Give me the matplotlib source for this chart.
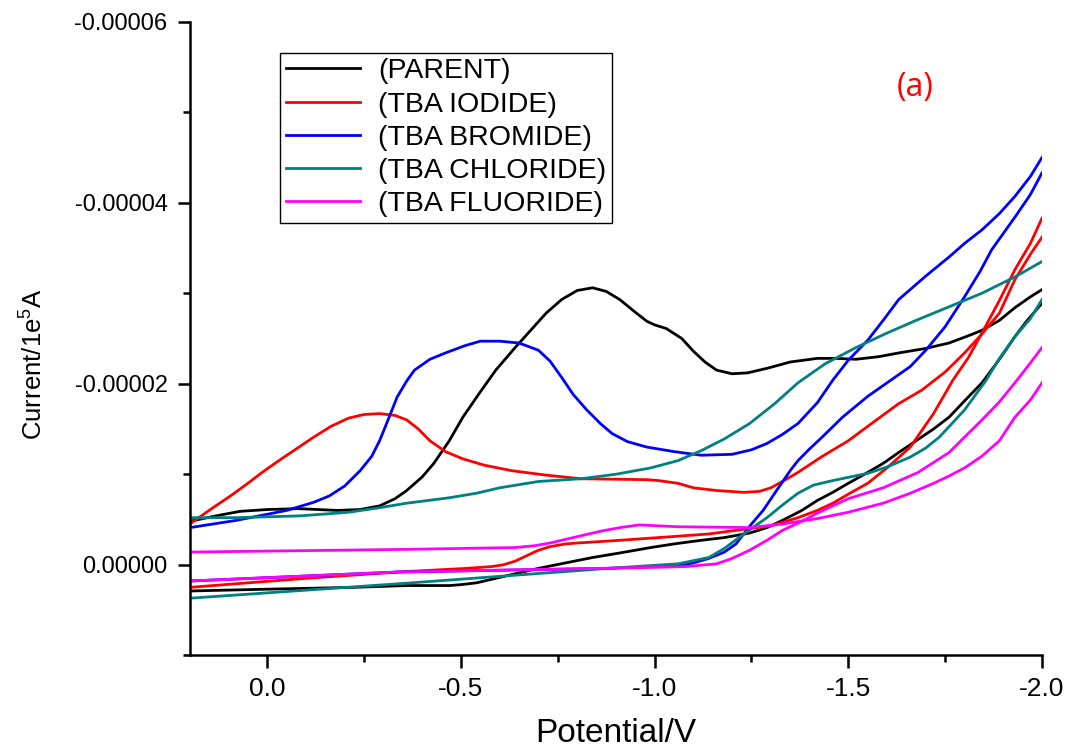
import numpy as np
import matplotlib
matplotlib.use('Agg')
import matplotlib.pyplot as plt
from matplotlib.ticker import MultipleLocator, FixedLocator, FixedFormatter

plt.rcParams['font.family'] = ['Liberation Sans', 'DejaVu Sans']
plt.rcParams['xtick.labelsize'] = 19
plt.rcParams['ytick.labelsize'] = 17

# potential (V) and current (uA), forward and return branch
parent_fwd_v = [0.20, 0.12, 0.07, 0.0, -0.08, -0.13, -0.18, -0.24, -0.29, -0.33, -0.36, -0.40, -0.43, -0.47, -0.505, -0.55, -0.59, -0.64, -0.68, -0.72, -0.76, -0.80, -0.84, -0.875, -0.91, -0.95, -0.98, -1.00, -1.03, -1.07, -1.10, -1.13, -1.16, -1.20, -1.24, -1.29, -1.35, -1.42, -1.47, -1.52, -1.58, -1.63, -1.70, -1.76, -1.81, -1.845, -1.89, -1.93, -1.97, -2.0]
parent_fwd_i = [-4.8, -5.5, -5.9, -6.1, -6.2, -6.1, -6.0, -6.1, -6.5, -7.3, -8.2, -9.7, -11.2, -13.7, -16.3, -19.1, -21.5, -24.0, -25.9, -27.8, -29.3, -30.3, -30.6, -30.2, -29.3, -27.9, -26.9, -26.5, -26.1, -25.0, -23.6, -22.4, -21.5, -21.1, -21.2, -21.7, -22.4, -22.8, -22.8, -22.7, -23.0, -23.4, -23.9, -24.5, -25.3, -25.9, -27.0, -28.4, -29.6, -30.4]
parent_rev_v = [-2.0, -1.96, -1.93, -1.89, -1.845, -1.80, -1.76, -1.72, -1.675, -1.63, -1.59, -1.55, -1.50, -1.46, -1.42, -1.38, -1.33, -1.29, -1.245, -1.18, -1.12, -1.05, -0.99, -0.91, -0.84, -0.77, -0.70, -0.64, -0.59, -0.54, -0.50, -0.47, -0.36, -0.22, 0.0, 0.20]
parent_rev_i = [-28.9, -26.9, -25.2, -22.7, -20.1, -18.1, -16.3, -15.0, -13.7, -12.4, -11.2, -10.2, -9.0, -8.0, -7.1, -6.0, -4.9, -4.1, -3.5, -3.0, -2.7, -2.3, -1.9, -1.3, -0.8, -0.2, 0.4, 1.0, 1.5, 2.0, 2.2, 2.3, 2.3, 2.5, 2.7, 2.9]

iodide_fwd_v = [0.20, 0.17, 0.14, 0.095, 0.05, 0.01, -0.03, -0.075, -0.12, -0.165, -0.21, -0.25, -0.29, -0.33, -0.36, -0.39, -0.42, -0.46, -0.505, -0.56, -0.63, -0.72, -0.81, -0.98, -1.01, -1.06, -1.10, -1.16, -1.23, -1.27, -1.30, -1.33, -1.37, -1.43, -1.50, -1.56, -1.63, -1.69, -1.75, -1.80, -1.845, -1.89, -1.93, -1.97, -2.0]
iodide_fwd_i = [-4.5, -5.4, -6.3, -7.6, -9.0, -10.3, -11.5, -12.8, -14.1, -15.3, -16.2, -16.6, -16.7, -16.5, -16.0, -15.0, -13.7, -12.5, -11.7, -11.0, -10.4, -9.9, -9.5, -9.4, -9.3, -9.0, -8.5, -8.2, -8.0, -8.1, -8.5, -9.2, -10.2, -11.9, -13.7, -15.6, -17.8, -19.3, -21.3, -23.4, -25.5, -27.8, -31.5, -34.3, -36.2]
iodide_rev_v = [-2.0, -1.97, -1.93, -1.89, -1.845, -1.81, -1.77, -1.72, -1.66, -1.60, -1.55, -1.50, -1.46, -1.42, -1.37, -1.30, -1.245, -1.14, -1.01, -0.91, -0.80, -0.77, -0.73, -0.70, -0.67, -0.64, -0.61, -0.58, -0.515, -0.34, -0.10, 0.20]
iodide_rev_i = [-38.3, -35.5, -32.6, -29.2, -25.6, -22.9, -20.4, -16.7, -13.0, -10.7, -9.0, -7.8, -6.8, -6.0, -5.2, -4.3, -4.0, -3.4, -3.0, -2.7, -2.4, -2.3, -2.0, -1.6, -1.0, -0.4, 0.0, 0.2, 0.4, 0.8, 1.5, 2.5]

bromide_fwd_v = [0.20, 0.08, -0.05, -0.12, -0.16, -0.20, -0.24, -0.27, -0.29, -0.31, -0.335, -0.36, -0.38, -0.42, -0.46, -0.51, -0.55, -0.60, -0.65, -0.70, -0.73, -0.76, -0.79, -0.825, -0.86, -0.89, -0.93, -0.98, -1.05, -1.12, -1.20, -1.25, -1.29, -1.33, -1.37, -1.42, -1.46, -1.50, -1.55, -1.59, -1.63, -1.70, -1.76, -1.80, -1.845, -1.89, -1.93, -1.97, -2.0]
bromide_fwd_i = [-4.1, -4.9, -6.0, -6.9, -7.6, -8.7, -10.4, -12.0, -13.7, -15.8, -18.5, -20.3, -21.5, -22.7, -23.4, -24.2, -24.7, -24.7, -24.5, -23.7, -22.5, -20.7, -18.8, -17.1, -15.6, -14.5, -13.6, -13.0, -12.5, -12.1, -12.2, -12.7, -13.4, -14.4, -15.6, -17.9, -20.4, -22.6, -24.8, -27.0, -29.3, -31.9, -34.0, -35.5, -37.0, -38.8, -40.7, -42.9, -45.0]
bromide_rev_v = [-2.0, -1.97, -1.93, -1.87, -1.84, -1.80, -1.75, -1.70, -1.66, -1.61, -1.55, -1.485, -1.43, -1.40, -1.37, -1.35, -1.31, -1.28, -1.25, -1.21, -1.18, -1.14, -1.10, -1.06, -0.88, -0.34, 0.20]
bromide_rev_i = [-43.3, -40.9, -38.4, -34.8, -32.4, -29.6, -26.3, -23.7, -21.9, -20.4, -18.6, -16.3, -14.0, -12.8, -11.5, -10.4, -7.9, -6.0, -4.5, -2.3, -1.4, -0.7, -0.2, 0.1, 0.4, 0.8, 1.8]

chloride_fwd_v = [0.20, 0.08, -0.085, -0.21, -0.29, -0.36, -0.47, -0.54, -0.60, -0.70, -0.81, -0.90, -0.99, -1.06, -1.12, -1.18, -1.245, -1.31, -1.37, -1.44, -1.52, -1.60, -1.675, -1.76, -1.845, -1.93, -2.0]
chloride_fwd_i = [-5.2, -5.2, -5.4, -5.8, -6.3, -6.8, -7.4, -7.9, -8.5, -9.2, -9.5, -10.0, -10.7, -11.5, -12.6, -13.9, -15.6, -17.8, -20.1, -22.2, -24.0, -25.6, -27.0, -28.5, -30.0, -31.8, -33.5]
chloride_rev_v = [-2.0, -1.97, -1.93, -1.89, -1.856, -1.80, -1.735, -1.70, -1.66, -1.60, -1.55, -1.46, -1.41, -1.37, -1.33, -1.29, -1.23, -1.18, -1.14, -1.06, -0.88, -0.34, 0.20]
chloride_rev_i = [-29.3, -27.2, -25.2, -22.8, -20.4, -17.1, -14.1, -12.9, -11.9, -10.8, -10.1, -9.3, -8.8, -7.9, -6.6, -5.2, -3.4, -1.8, -0.8, -0.1, 0.4, 2.1, 3.7]

fluoride_fwd_v = [0.20, -0.36, -0.64, -0.69, -0.73, -0.77, -0.81, -0.86, -0.91, -0.96, -1.01, -1.06, -1.245, -1.33, -1.42, -1.50, -1.59, -1.66, -1.72, -1.76, -1.80, -1.845, -1.89, -1.93, -1.97, -2.0]
fluoride_fwd_i = [-1.4, -1.7, -1.9, -2.1, -2.4, -2.8, -3.2, -3.7, -4.1, -4.4, -4.3, -4.2, -4.1, -4.5, -5.1, -5.8, -6.8, -7.9, -9.0, -9.8, -10.7, -12.0, -13.7, -16.3, -18.2, -20.1]
fluoride_rev_v = [-2.0, -1.97, -1.93, -1.89, -1.845, -1.80, -1.76, -1.68, -1.59, -1.50, -1.46, -1.42, -1.38, -1.33, -1.29, -1.245, -1.20, -1.16, -1.08, -0.99, -0.34, 0.20]
fluoride_rev_i = [-24.0, -22.3, -20.1, -18.0, -16.0, -14.1, -12.4, -10.2, -8.5, -7.3, -6.5, -5.7, -4.8, -3.8, -2.7, -1.6, -0.7, -0.1, 0.2, 0.3, 0.8, 1.8]

labels = ['(PARENT)', '(TBA IODIDE)', '(TBA BROMIDE)', '(TBA CHLORIDE)', '(TBA FLUORIDE)']
colors = ['black', '#ff0000', '#0000ff', '#008080', '#ff00ff']

x_ticks = [0.0, -0.5, -1.0, -1.5, -2.0]
x_tick_labels = ['0.0', '-0.5', '-1.0', '-1.5', '-2.0']
y_ticks = [-0.00006, -0.00004, -0.00002, 0.0]
y_tick_labels = ['-0.00006', '-0.00004', '-0.00002', '0.00000']

series = [
    (parent_fwd_v, parent_fwd_i, parent_rev_v, parent_rev_i),
    (iodide_fwd_v, iodide_fwd_i, iodide_rev_v, iodide_rev_i),
    (bromide_fwd_v, bromide_fwd_i, bromide_rev_v, bromide_rev_i),
    (chloride_fwd_v, chloride_fwd_i, chloride_rev_v, chloride_rev_i),
    (fluoride_fwd_v, fluoride_fwd_i, fluoride_rev_v, fluoride_rev_i),
]

fig = plt.figure(figsize=(10.66, 7.48), dpi=100)
ax = fig.add_axes([0.178, 0.124, 0.7995, 0.847])

for (fv, fi, rv, ri), lab, col in zip(series, labels, colors):
    ax.plot(fv, np.array(fi) * 1e-6, color=col, lw=2.0, label=lab, solid_joinstyle='round')
    ax.plot(rv, np.array(ri) * 1e-6, color=col, lw=2.0, solid_joinstyle='round')

ax.set_xlim(0.2, -2.0)
ax.set_ylim(0.00001, -0.00006)

ax.xaxis.set_major_locator(FixedLocator(x_ticks))
ax.xaxis.set_major_formatter(FixedFormatter(x_tick_labels))
ax.xaxis.set_minor_locator(MultipleLocator(0.25))
ax.yaxis.set_major_locator(FixedLocator(y_ticks))
ax.yaxis.set_major_formatter(FixedFormatter(y_tick_labels))
ax.yaxis.set_minor_locator(MultipleLocator(0.00001))

ax.spines['top'].set_visible(False)
ax.spines['right'].set_visible(False)
for s in ['left', 'bottom']:
    ax.spines[s].set_linewidth(1.8)
ax.tick_params(which='major', direction='out', length=9, width=1.8, pad=7)
ax.tick_params(which='minor', direction='out', length=5, width=1.8)

ax.set_xlabel('Potential/V', fontsize=24, labelpad=12)
ax.set_ylabel(r'Current/1e$^{\mathregular{5}}$A', fontsize=18.5)
ax.yaxis.set_label_coords(-0.168, 0.46)

leg = ax.legend(loc='upper left', bbox_to_anchor=(0.106, 0.951), fontsize=20.5,
                frameon=True, fancybox=False, framealpha=1, edgecolor='black',
                handlelength=2.6, handletextpad=0.65, labelspacing=0.25,
                borderpad=0.2, borderaxespad=0)
leg.get_frame().set_linewidth(1.0)

ax.text(0.851, 0.896, '(a)', transform=ax.transAxes, color='#ff0000',
        fontsize=23, family=['Open Sans', 'DejaVu Sans'], ha='center', va='center')

fig.savefig('out.png', dpi=100, facecolor='white')
plt.close()
